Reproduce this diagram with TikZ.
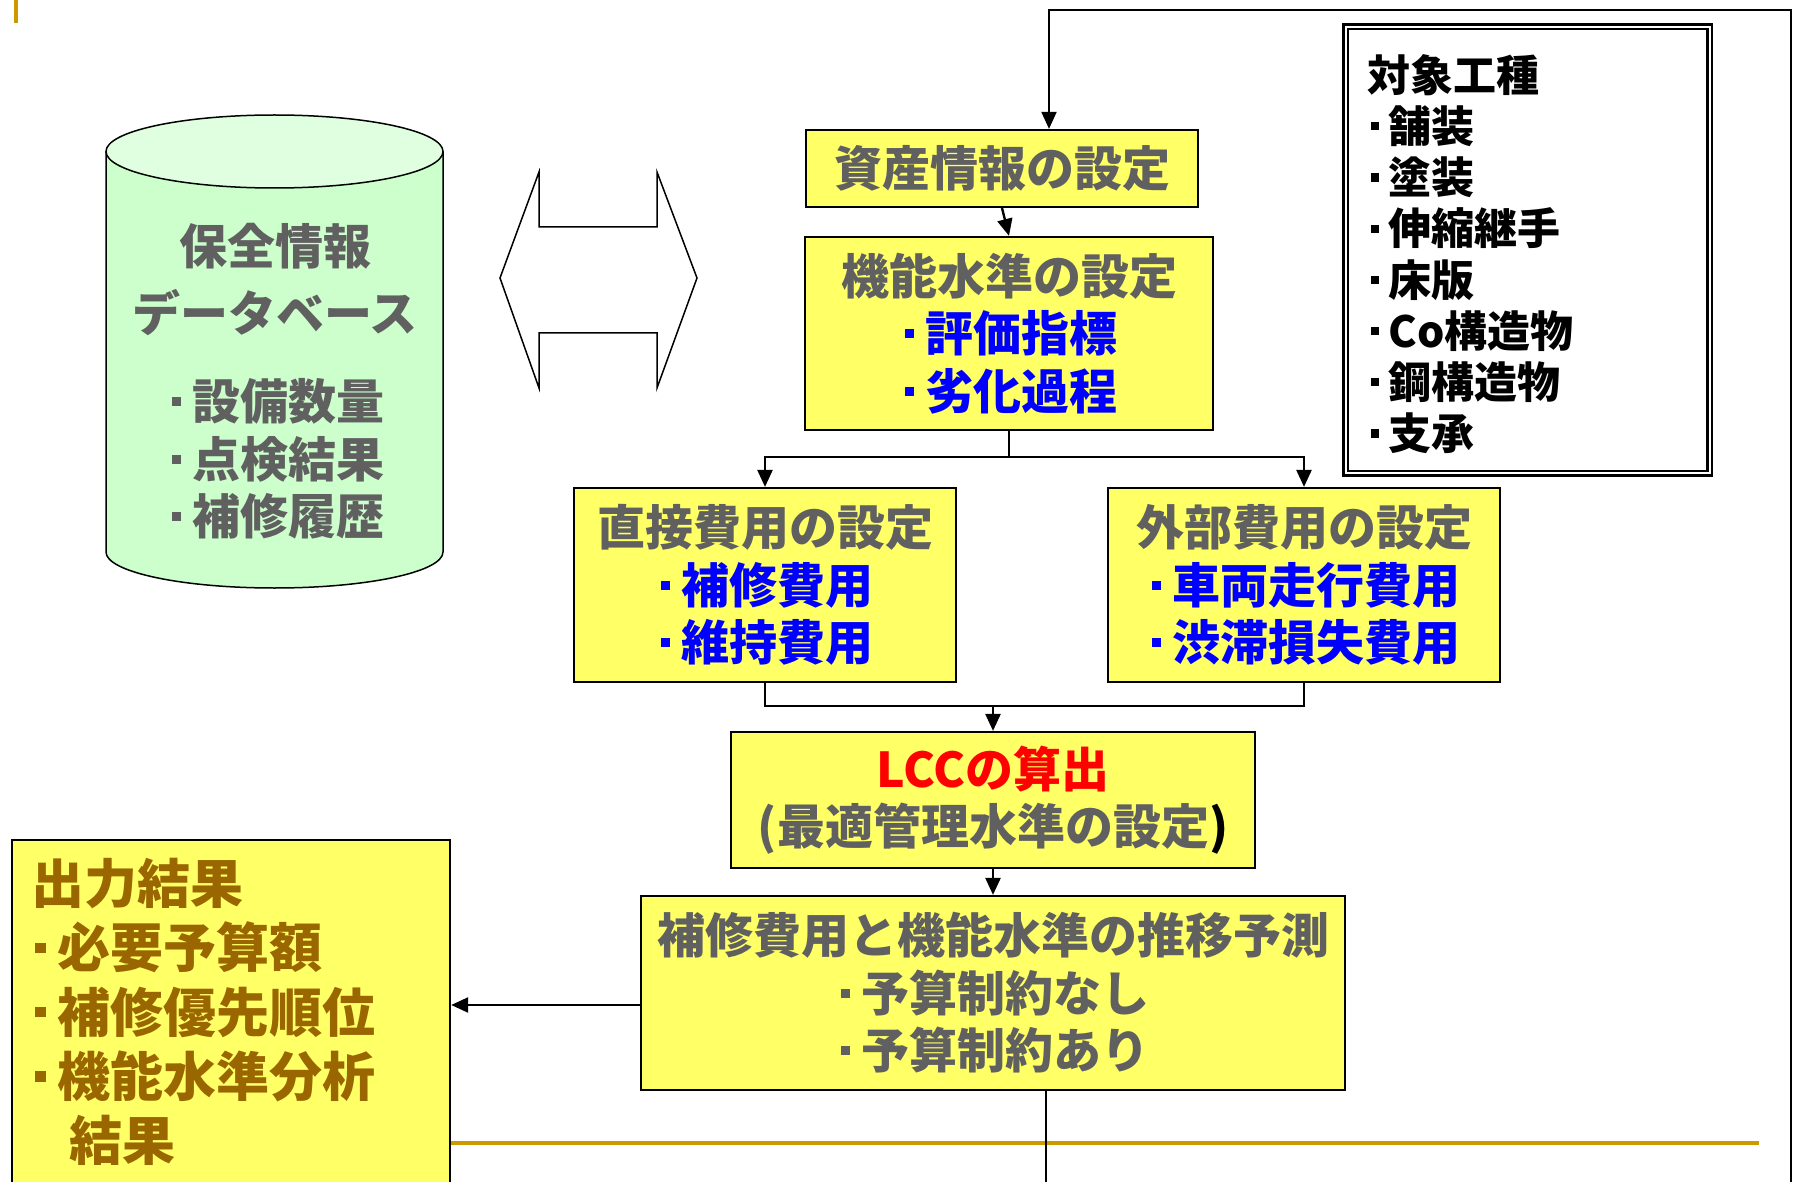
\documentclass[tikz,border=0pt]{standalone}
\usepackage{fontspec}
\newfontfamily\jp{Noto Sans CJK JP}
\usetikzlibrary{arrows.meta}
\definecolor{boxyellow}{HTML}{FFFF66}
\definecolor{txtgray}{HTML}{606060}
\definecolor{itemblue}{HTML}{0000FF}
\definecolor{lccred}{HTML}{FF0000}
\definecolor{outgold}{HTML}{996600}
\definecolor{rulegold}{HTML}{CC9900}
\definecolor{cylbody}{HTML}{CCFFCC}
\definecolor{cyltop}{HTML}{E0FFE0}
\newcommand\sqb{\hspace*{0.08em}\rule[0.28em]{0.19em}{0.19em}\hspace*{0.23em}}
\tikzset{
  box/.style={draw=black, line width=2.2pt, fill=boxyellow, inner sep=0pt, align=center,
    text=txtgray, font=\jp\bfseries\fontsize{48}{57.5}\selectfont},
  conn/.style={line width=2.4pt, -{Triangle[length=17pt,width=15pt]}},
  plainline/.style={line width=2.4pt},
  fbline/.style={line width=2pt},
  fbarrow/.style={line width=2pt, -{Triangle[length=17pt,width=15pt]}},
  gtext/.style={inner sep=0pt, text=txtgray, font=\jp\bfseries\fontsize{48}{57.5}\selectfont},
}
\begin{document}
\begin{tikzpicture}[x=1pt,y=-1pt]
\useasboundingbox (0,0) rectangle (1797,1182);
\fill[white] (0,0) rectangle (1797,1182);

% decorative marks
\fill[rulegold] (14,0) rectangle (17.5,23);
\draw[rulegold, line width=4pt] (449,1143) -- (1759,1143);

% database cylinder
\path[fill=cylbody, draw=black, line width=1.5pt]
  (106,151.5) -- (106,552) arc[start angle=180, end angle=0, x radius=168.5, y radius=36]
  -- (443,151.5);
\draw[fill=cyltop, line width=1.5pt] (274.5,151.5) ellipse [x radius=168.5, y radius=36.5];
\node[gtext, align=center, font=\jp\bfseries\fontsize{48}{67}\selectfont] (dbtitle) at (275,279) {保全情報\\データベース};
\node[gtext, align=left] (dblist) at (276,459) {\sqb 設備数量\\\sqb 点検結果\\\sqb 補修履歴};

% double arrow
\draw[fill=white, line width=1.5pt] (500,278) -- (539,172) -- (539,227) -- (657,227) -- (657,172)
  -- (697,278) -- (657,388) -- (657,333) -- (539,333) -- (539,388) -- cycle;

% flow boxes
\node[box, minimum width=392pt, minimum height=77pt] (shisan) at (1002,168.5) {資産情報の設定};
\node[box, minimum width=408pt, minimum height=193pt] (kino) at (1009,333.5)
  {機能水準の設定\\{\color{itemblue}\sqb 評価指標}\\{\color{itemblue}\sqb 劣化過程}};
\node[box, minimum width=382pt, minimum height=194pt] (direct) at (765,585)
  {直接費用の設定\\{\color{itemblue}\sqb 補修費用}\\{\color{itemblue}\sqb 維持費用}};
\node[box, minimum width=392pt, minimum height=194pt] (external) at (1304,585)
  {外部費用の設定\\{\color{itemblue}\sqb 車両走行費用}\\{\color{itemblue}\sqb 渋滞損失費用}};
\node[box, minimum width=524pt, minimum height=136pt] (lcc) at (993,800)
  {{\color{lccred}LCCの算出}\\(最適管理水準の設定{\color{black})}};
\node[box, minimum width=704pt, minimum height=194pt] (pred) at (993,993)
  {補修費用と機能水準の推移予測\\\sqb 予算制約なし\\\sqb 予算制約あり};

% output box
\node[box, minimum width=438pt, minimum height=347pt, anchor=north west] (outbox) at (11,839) {};
\node[inner sep=0pt, align=left, anchor=west, text=outgold,
  font=\jp\bfseries\fontsize{53}{64.2}\selectfont] (outtext) at (31,1012)
  {出力結果\\\sqb 必要予算額\\\sqb 補修優先順位\\\sqb 機能水準分析\\\hspace*{38pt}結果};

% target work types box
\node[draw=black, double, double distance=2pt, line width=2.5pt, fill=white,
  minimum width=364pt, minimum height=446pt, inner sep=0pt] (objbox) at (1527.5,250) {};
\node[inner sep=0pt, align=left, anchor=west, text=black,
  font=\jp\bfseries\fontsize{43}{51.2}\selectfont] (objtext) at (1367,254)
  {対象工種\\\sqb 舗装\\\sqb 塗装\\\sqb 伸縮継手\\\sqb 床版\\\sqb Co構造物\\\sqb 鋼構造物\\\sqb 支承};

% connectors
\draw[conn] (shisan.south) -- (kino.north);
\draw[conn] (kino.south) -- ++(0,26) -| (direct.north);
\draw[conn] (kino.south) -- ++(0,26) -| (external.north);
\coordinate (join) at (993,706);
\draw[plainline] (direct.south) |- (join) -| (external.south);
\draw[conn] (join) -- (lcc.north);
\draw[conn] (lcc.south) -- (pred.north);
\draw[conn] ([yshift=-12pt]pred.west) -- ([yshift=-12pt]pred.west -| outbox.east);

% feedback loop
\coordinate (fbdown) at (1046,1182);
\coordinate (fbrb) at (1791,1182);
\coordinate (fbrt) at (1791,10);
\coordinate (fblt) at (1049,10);
\draw[fbline] (pred.south -| fbdown) -- (fbdown);
\draw[fbarrow] (fbrb) -- (fbrt) -- (fblt) -- (fblt |- shisan.north);
\end{tikzpicture}
\end{document}
